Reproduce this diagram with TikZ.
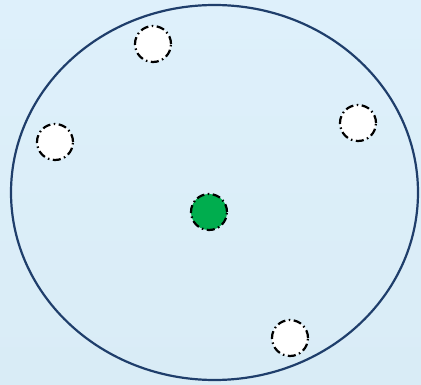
\documentclass[tikz,border=0pt]{standalone}
\usepackage{xcolor}
\usepackage{tikz}
\definecolor{paleblue}{HTML}{DEF0FB}
\definecolor{paleblue2}{HTML}{D9ECF6}
\definecolor{ringnavy}{HTML}{1F3E6B}
\definecolor{seedgreen}{HTML}{00AD4E}
\tikzset{
  spot/.style={circle, draw=black, line width=2.2pt, minimum size=36pt, inner sep=0pt,
               dash pattern=on 8pt off 3.5pt on 1.5pt off 3.5pt},
}

\begin{document}
\begin{tikzpicture}[x=1pt, y=-1pt]
    \shade[top color=paleblue, bottom color=paleblue2] (0,0) rectangle (421,385);
    \useasboundingbox (0,0) rectangle (421,385);
    \coordinate (ring) at (214.5,192.5);
    \draw[ringnavy, line width=2.2pt] (ring) ellipse [x radius=203.5pt, y radius=187.5pt];
    \node[spot, fill=white] (top) at (153,44) {};
    \node[spot, fill=white] (left) at (55,142) {};
    \node[spot, fill=white] (right) at (358,123) {};
    \node[spot, fill=white] (bottom) at (290,338) {};
    \node[spot, fill=seedgreen] (seed) at (209,212) {};
\end{tikzpicture}
\end{document}
